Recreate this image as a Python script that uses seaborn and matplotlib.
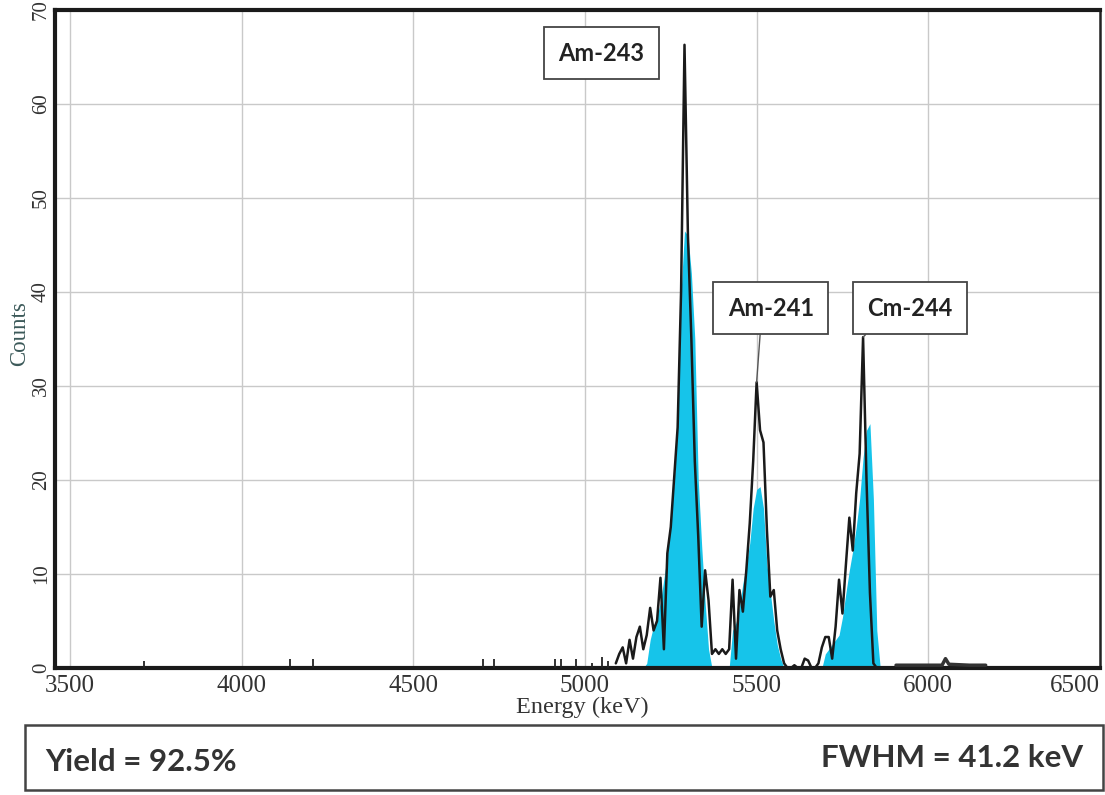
import numpy as np
import pandas as pd
import matplotlib
matplotlib.use("Agg")
import matplotlib.pyplot as plt
from matplotlib.patches import Rectangle
import seaborn as sns

# alpha spectrum, 10 keV channels
energy = np.arange(5090, 5870, 10)
total_counts = [0.5, 1.5, 2.2, 0.5, 3.0, 1.0, 3.3, 4.4, 2.0, 3.5,
                6.4, 4.0, 5.0, 9.6, 2.0, 12.2, 15.0, 20.3, 25.6, 40.0,
                66.3, 46.0, 35.0, 22.0, 14.0, 4.4, 10.4, 7.2, 1.5, 2.0,
                1.5, 2.0, 1.5, 2.0, 9.4, 1.0, 8.3, 6.0, 10.4, 15.4,
                22.0, 30.4, 25.3, 24.0, 14.7, 7.6, 8.3, 4.0, 2.0, 0.5,
                0.0, 0.0, 0.3, 0.0, 0.0, 1.0, 0.8, 0.0, 0.0, 0.5,
                2.2, 3.3, 3.3, 1.0, 4.4, 9.4, 5.8, 11.0, 16.0, 12.5,
                18.6, 22.8, 35.2, 20.0, 8.0, 0.5, 0.0, 0.0]
# counts inside the regions of interest (cyan fill)
roi_counts = [0, 0, 0, 0, 0, 0, 0, 0, 0, 0.5,
              3.0, 4.5, 5.5, 7.0, 9.5, 12.0, 16.0, 20.0, 26.0, 40.0,
              46.5, 46.0, 42.0, 35.0, 20.0, 13.0, 7.0, 2.0, 0, 0,
              0, 0, 0, 0, 4.0, 4.8, 6.5, 9.0, 11.0, 13.3,
              17.0, 19.0, 19.3, 17.0, 11.0, 8.0, 5.0, 2.5, 1.0, 0,
              0, 0, 0, 0, 0, 0, 0, 0, 0, 0,
              0, 1.5, 2.0, 2.5, 3.0, 3.5, 5.4, 8.0, 10.4, 12.5,
              15.0, 18.0, 22.4, 25.3, 26.0, 18.0, 4.0, 0]

# single stray counts below the peaks
stray_energy = [3716, 4141, 4207, 4702, 4735, 4912, 4929, 4975, 5020, 5051, 5068]
stray_counts = [0.8, 1.0, 1.0, 1.0, 1.0, 1.0, 1.0, 1.0, 0.5, 1.2, 0.8]

# low flat tail above Cm-244
tail_energy = [5906, 5960, 6040, 6050, 6060, 6120, 6167]
tail_counts = [0.3, 0.3, 0.3, 1.0, 0.4, 0.3, 0.3]

peak_labels = ["Am-243", "Am-241", "Cm-244"]
peak_energy = [5290, 5500, 5810]
peak_counts = [66.3, 30.4, 35.2]

x_ticks = [3500, 4000, 4500, 5000, 5500, 6000, 6500]
y_ticks = [0, 10, 20, 30, 40, 50, 60, 70]

yield_text = "Yield = 92.5%"
fwhm_text = "FWHM = 41.2 keV"

sns.set_style("whitegrid")
serif = ["Liberation Serif", "DejaVu Serif"]
sans = ["Lato", "DejaVu Sans"]

fig = plt.figure(figsize=(11.05, 7.95), dpi=100)
ax = fig.add_axes([0.0498, 0.1597, 0.9457, 0.8277])

ax.fill_between(energy, roi_counts, color="#16c4ea", lw=0, zorder=2)
sns.lineplot(x=energy, y=total_counts, ax=ax, color="#1a1a1a", lw=1.8, zorder=3)
ax.vlines(stray_energy, 0, stray_counts, color="#222222", lw=1.3, zorder=3)
sns.lineplot(x=tail_energy, y=tail_counts, ax=ax, color="#333333", lw=2.5, zorder=3)

ax.set_xlim(3457, 6500)
ax.set_ylim(0, 70)
ax.set_xticks(x_ticks)
ax.set_yticks(y_ticks)
ax.grid(True, color="#c9c9c9", lw=1)
ax.tick_params(length=0, colors="#333333")
ax.tick_params(axis="x", labelsize=18, pad=5)
ax.tick_params(axis="y", labelsize=15, pad=3)
for lbl in ax.get_xticklabels():
    lbl.set_family(serif)
ax.get_xticklabels()[-1].set_ha("right")
for lbl in ax.get_yticklabels():
    lbl.set_family(serif)
    lbl.set_rotation(90)
    lbl.set_va("center")

for side in ["left", "bottom", "top"]:
    ax.spines[side].set_color("#1a1a1a")
    ax.spines[side].set_linewidth(3)
ax.spines["right"].set_color("#222222")
ax.spines["right"].set_linewidth(1.8)

ax.set_xlabel("Energy (keV)", family=serif, fontsize=17.5, color="#333333")
ax.set_ylabel("Counts", family=serif, fontsize=16.5, color="#3b5959")
ax.xaxis.set_label_coords(0.505, -0.043)
ax.yaxis.set_label_coords(-0.024, 0.509)

# labelled peaks
label_pos = [(5048, 65.4), (5541, 38.3), (5946, 38.3)]
line_rel = [(1.0, 0.0), (0.39, 0.0), (0.16, 0.0)]
for name, e, c, pos, rel in zip(peak_labels, peak_energy, peak_counts, label_pos, line_rel):
    ax.annotate(name, xy=(e, c), xytext=pos, ha="center", va="center",
                family=sans, fontsize=17, fontweight="bold", color="#222222",
                bbox=dict(boxstyle="square,pad=0.62", fc="white", ec="#444444", lw=1.3),
                arrowprops=dict(arrowstyle="-", color="#555555", lw=1.0,
                                shrinkA=0, shrinkB=0, relpos=rel) if name != "Am-243" else None,
                zorder=5)

# result box under the chart
fig.add_artist(Rectangle((0.0226, 0.0063), 0.9756, 0.0818, transform=fig.transFigure,
                         fill=False, ec="#444444", lw=1.8))
fig.text(0.0407, 0.0415, yield_text, family=sans, fontsize=22.5, fontweight="bold",
         color="#333333", ha="left", va="center")
fig.text(0.980, 0.0465, fwhm_text, family=sans, fontsize=22.5, fontweight="bold",
         color="#333333", ha="right", va="center")

fig.savefig("out.png", dpi=100)
